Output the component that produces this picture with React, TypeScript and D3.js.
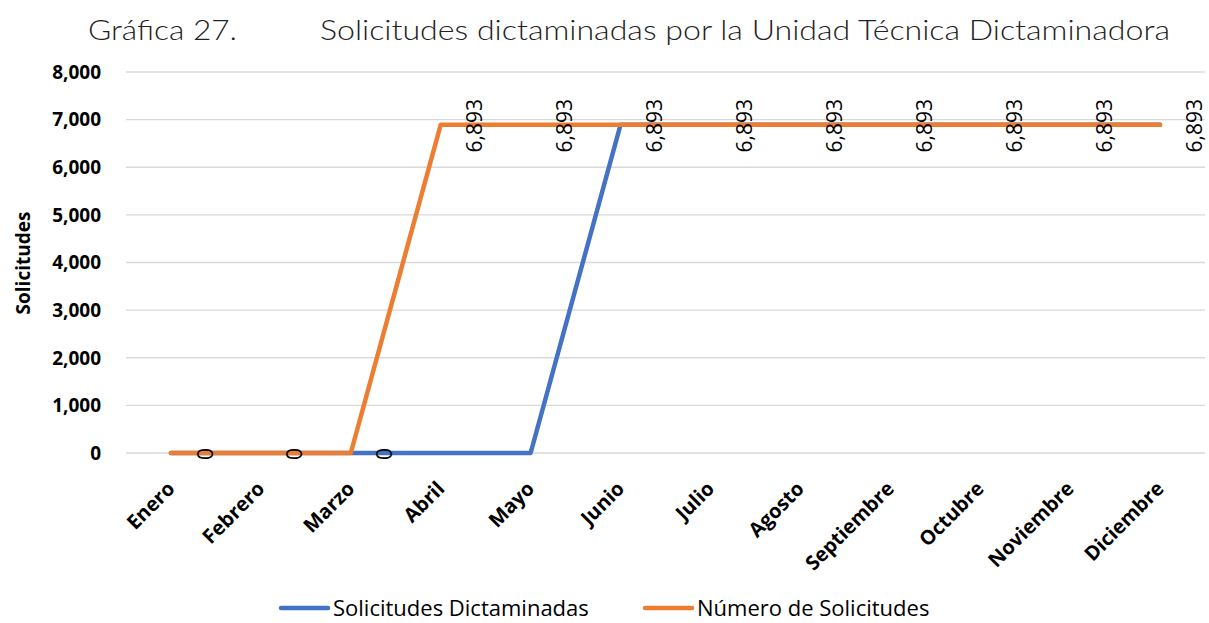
import { useEffect, useRef } from "react";
import * as d3 from "d3";

const months = [
  "Enero",
  "Febrero",
  "Marzo",
  "Abril",
  "Mayo",
  "Junio",
  "Julio",
  "Agosto",
  "Septiembre",
  "Octubre",
  "Noviembre",
  "Diciembre",
];

const dictaminadas = [0, 0, 0, 0, 0, 6893, 6893, 6893, 6893, 6893, 6893, 6893];
const numeroSolicitudes = [0, 0, 0, 6893, 6893, 6893, 6893, 6893, 6893, 6893, 6893, 6893];
const yTicks = [0, 1000, 2000, 3000, 4000, 5000, 6000, 7000, 8000];

const BLUE = "#4472C4";
const ORANGE = "#ED7D31";

const App = () => {
  const svgRef = useRef<SVGSVGElement | null>(null);
  const width = 1209;
  const height = 623;

  useEffect(() => {
    const svg = d3.select(svgRef.current);
    svg.selectAll("*").remove();

    const x = d3.scalePoint<string>().domain(months).range([126, 1205]).padding(0.5);
    const y = d3.scaleLinear().domain([0, 8000]).range([453, 72]);
    const fmt = d3.format(",");

    // title
    const title = svg.append("g").attr("font-family", "Lato, 'Open Sans', sans-serif").attr("font-weight", 300).attr("fill", "#222");
    title
      .append("text")
      .attr("x", 88)
      .attr("y", 40)
      .attr("font-size", 27)
      .attr("textLength", 149)
      .attr("lengthAdjust", "spacingAndGlyphs")
      .text("Gráfica 27.");
    title
      .append("text")
      .attr("x", 320)
      .attr("y", 40)
      .attr("font-size", 27)
      .attr("textLength", 850)
      .attr("lengthAdjust", "spacingAndGlyphs")
      .text("Solicitudes dictaminadas por la Unidad Técnica Dictaminadora");

    // grid + y labels
    const yAxis = svg.append("g").attr("font-family", "'Open Sans', sans-serif");
    yAxis
      .selectAll("line")
      .data(yTicks)
      .enter()
      .append("line")
      .attr("x1", 126)
      .attr("x2", 1205)
      .attr("y1", (d) => y(d))
      .attr("y2", (d) => y(d))
      .attr("stroke", "#d9d9d9")
      .attr("stroke-width", 1.3);
    yAxis
      .selectAll("text")
      .data(yTicks)
      .enter()
      .append("text")
      .attr("x", 101)
      .attr("y", (d) => y(d))
      .attr("dy", "0.36em")
      .attr("text-anchor", "end")
      .attr("font-size", 19)
      .attr("font-weight", 700)
      .attr("fill", "#000")
      .text((d) => fmt(d));

    svg
      .append("text")
      .attr("transform", `translate(30, 263) rotate(-90)`)
      .attr("text-anchor", "middle")
      .attr("font-family", "'Open Sans', sans-serif")
      .attr("font-size", 19)
      .attr("font-weight", 700)
      .text("Solicitudes");

    // x labels
    svg
      .append("g")
      .selectAll("text")
      .data(months)
      .enter()
      .append("text")
      .attr("transform", (d) => `translate(${(x(d) as number) + 5}, 490) rotate(-45)`)
      .attr("text-anchor", "end")
      .attr("font-family", "'Open Sans', sans-serif")
      .attr("font-size", 20)
      .attr("font-weight", 700)
      .attr("fill", "#000")
      .text((d) => d);

    // lines
    const line = d3
      .line<number>()
      .x((_, i) => x(months[i]) as number)
      .y((d) => y(d));

    svg
      .append("path")
      .datum(dictaminadas)
      .attr("d", line)
      .attr("fill", "none")
      .attr("stroke", BLUE)
      .attr("stroke-width", 4.5)
      .attr("stroke-linecap", "round")
      .attr("stroke-linejoin", "round");

    svg
      .append("path")
      .datum(numeroSolicitudes)
      .attr("d", line)
      .attr("fill", "none")
      .attr("stroke", ORANGE)
      .attr("stroke-width", 4.5)
      .attr("stroke-linecap", "round")
      .attr("stroke-linejoin", "round");

    // data labels (orange series)
    svg
      .append("g")
      .selectAll("text")
      .data(numeroSolicitudes)
      .enter()
      .append("text")
      .attr("transform", (d, i) => `translate(${(x(months[i]) as number) + 34}, ${y(d) + 1}) rotate(-90)`)
      .attr("text-anchor", "middle")
      .attr("dy", "0.36em")
      .attr("font-family", "'Open Sans', sans-serif")
      .attr("font-size", 21)
      .attr("fill", "#000")
      .text((d) => fmt(d));

    // legend
    const legendItems = [
      { name: "Solicitudes Dictaminadas", color: BLUE, x: 279 },
      { name: "Número de Solicitudes", color: ORANGE, x: 643 },
    ];
    const legend = svg.append("g");
    legendItems.forEach((item) => {
      legend
        .append("line")
        .attr("x1", item.x + 2)
        .attr("x2", item.x + 49)
        .attr("y1", 608)
        .attr("y2", 608)
        .attr("stroke", item.color)
        .attr("stroke-width", 4.5)
        .attr("stroke-linecap", "round");
      legend
        .append("text")
        .attr("x", item.x + 54)
        .attr("y", 608)
        .attr("dy", "0.36em")
        .attr("font-family", "'Open Sans', sans-serif")
        .attr("font-size", 22)
        .attr("fill", "#000")
        .text(item.name);
    });
  }, []);

  return (
    <div style={{ position: "absolute", left: 0, top: 0, background: "#fff" }}>
      <svg ref={svgRef} width={width} height={height} style={{ display: "block" }}></svg>
    </div>
  );
};

export default App;
